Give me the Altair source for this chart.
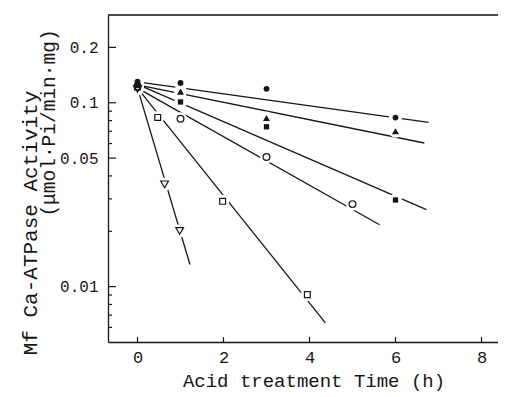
import altair as alt
import pandas as pd

# ---- data ----
series_names = ["fc", "ft", "fs", "oc", "os", "ot"]
series_shapes = ["circle", "triangle-up", "square", "circle", "square", "triangle-down"]
series_filled = [True, True, True, False, False, False]

# measured points (time h, activity)
t_fc = [0, 1, 3, 6]
v_fc = [0.130, 0.128, 0.119, 0.083]
t_ft = [0, 1, 3, 6]
v_ft = [0.127, 0.115, 0.0826, 0.070]
t_fs = [0, 1, 3, 6]
v_fs = [0.124, 0.101, 0.074, 0.0296]
t_oc = [0, 1, 3, 5]
v_oc = [0.122, 0.0818, 0.0507, 0.0281]
t_os = [0, 0.47, 1.98, 3.95]
v_os = [0.122, 0.0832, 0.0291, 0.00905]
t_ot = [0, 0.63, 0.98]
v_ot = [0.119, 0.036, 0.0201]

# fitted lines (start, end)
fit_t0 = [0, 0, 0, 0, 0, 0]
fit_v0 = [0.130, 0.125, 0.126, 0.120, 0.120, 0.120]
fit_t1 = [6.77, 6.67, 6.72, 5.63, 4.37, 1.22]
fit_v1 = [0.0782, 0.0604, 0.0262, 0.0217, 0.00635, 0.0132]

x_ticks = [0, 2, 4, 6, 8]
y_major = [0.2, 0.1, 0.05, 0.01]
y_minor = [0.09, 0.08, 0.07, 0.06, 0.04, 0.03, 0.02,
           0.009, 0.008, 0.007, 0.006]

x_title = "Acid treatment Time (h)"
y_title1 = "Mf Ca-ATPase Activity"
y_title2 = "(μmol·Pi/min·mg)"

# ---- build tables ----
pts_t = [t_fc, t_ft, t_fs, t_oc, t_os, t_ot]
pts_v = [v_fc, v_ft, v_fs, v_oc, v_os, v_ot]
points = pd.DataFrame(
    [{"s": s, "t": t, "v": v} for s, ts, vs in zip(series_names, pts_t, pts_v)
     for t, v in zip(ts, vs)]
)
lines = pd.DataFrame(
    [{"s": s, "t": a, "v": b} for s, a, b in zip(series_names, fit_t0, fit_v0)]
    + [{"s": s, "t": a, "v": b} for s, a, b in zip(series_names, fit_t1, fit_v1)]
)

W, H = 390, 327
FONT = "Liberation Mono"
INK = "#161616"

xs = alt.Scale(domain=[-0.686, 8.384], nice=False, zero=False)
ys = alt.Scale(type="log", domain=[0.005, 0.3], nice=False)
x_axis = alt.Axis(values=x_ticks, title=None, grid=False, ticks=False,
                  labelFont=FONT, labelFontSize=17, labelColor=INK,
                  labelPadding=7, domainColor=INK, domainWidth=1.3)
y_axis = alt.Axis(values=y_major, title=None, grid=False, ticks=False,
                  format="~g", labelFont=FONT, labelFontSize=16,
                  labelColor=INK, labelPadding=10, domainColor=INK,
                  domainWidth=1.3)

X = alt.X("t:Q", scale=xs, axis=x_axis)
Y = alt.Y("v:Q", scale=ys, axis=y_axis)

line_layer = alt.Chart(lines).mark_line(color=INK, strokeWidth=1.3).encode(
    x=X, y=Y, detail="s:N")
halo = alt.Chart(points).mark_point(filled=True, color="white", opacity=1,
                                    size=170).encode(x=X, y=Y)

marker_layers = []
marker_sizes = [34, 50, 28, 46, 34, 60]
for s, shp, f, sz in zip(series_names, series_shapes, series_filled, marker_sizes):
    d = points[points.s == s]
    if f:
        m = alt.Chart(d).mark_point(filled=True, color=INK, opacity=1,
                                    shape=shp, size=sz)
    else:
        m = alt.Chart(d).mark_point(filled=False, color=INK, opacity=1,
                                    strokeWidth=1.2, shape=shp, size=sz)
    marker_layers.append(m.encode(x=X, y=Y))

ymaj = alt.Chart(pd.DataFrame({"v": y_major})).mark_rule(
    color=INK, strokeWidth=1.2).encode(y=Y, x=alt.value(0), x2=alt.value(8))
ymin = alt.Chart(pd.DataFrame({"v": y_minor})).mark_rule(
    color=INK, strokeWidth=1.2).encode(y=Y, x=alt.value(0), x2=alt.value(4))
xtk = alt.Chart(pd.DataFrame({"t": x_ticks})).mark_rule(
    color=INK, strokeWidth=1.2).encode(x=X, y=alt.value(H), y2=alt.value(H - 5))
top = alt.Chart(pd.DataFrame({"t": [0]})).mark_rule(
    color=INK, strokeWidth=1.3).encode(x=alt.value(0), x2=alt.value(W),
                                       y=alt.value(0))

xt = alt.Chart(pd.DataFrame({"txt": [x_title]})).mark_text(
    font=FONT, fontSize=19, color=INK, align="center", baseline="middle"
).encode(text="txt:N", x=alt.value(206), y=alt.value(366))
yt1 = alt.Chart(pd.DataFrame({"txt": [y_title1]})).mark_text(
    font=FONT, fontSize=21, color=INK, align="center", baseline="middle",
    angle=270).encode(text="txt:N", x=alt.value(-77), y=alt.value(208))
yt2 = alt.Chart(pd.DataFrame({"txt": [y_title2]})).mark_text(
    font=FONT, fontSize=19.5, color=INK, align="center", baseline="middle",
    angle=270).encode(text="txt:N", x=alt.value(-59), y=alt.value(108))

chart = alt.layer(
    line_layer, halo, *marker_layers, ymaj, ymin, xtk, top, xt, yt1, yt2
).properties(
    width=W, height=H,
    autosize=alt.AutoSizeParams(type="none"),
    padding={"left": 100, "top": 7, "right": 0, "bottom": 52},
).configure_view(stroke=None).configure(background="white")

chart.save("out.html", embed_options={"renderer": "svg", "actions": False})
